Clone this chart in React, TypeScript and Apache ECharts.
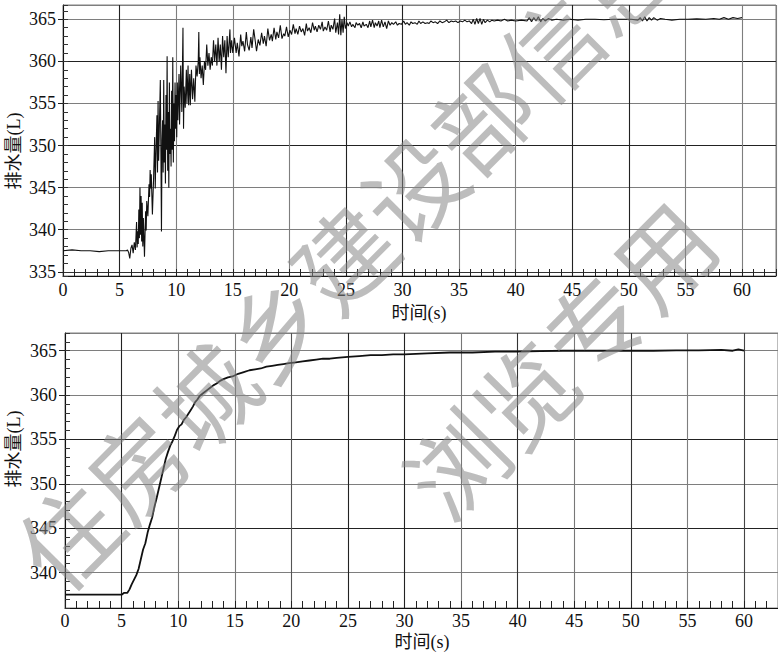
import React, { useEffect, useRef } from "react";
import * as echarts from "echarts";

// ---- Top chart: measured discharge (noisy) [time s, volume L]
const topBaseline: [number, number][] = [
  [0, 337.5], [0.8, 337.6], [1.6, 337.5], [2.4, 337.5], [3.2, 337.4], [4.0, 337.5], [4.8, 337.5], [5.6, 337.5],
];
const topRise: [number, number][] = [
  [5.7, 337.6], [5.8, 337.3], [5.9, 336.6], [6.0, 337.8], [6.1, 338.2], [6.2, 337.2], [6.3, 338.5], [6.4, 337.6],
  [6.5, 340.9], [6.55, 337.9], [6.6, 339.8], [6.65, 338.3], [6.7, 342.4], [6.75, 339.0], [6.8, 345.0], [6.85, 339.4],
  [6.9, 344.0], [6.95, 338.6], [7.0, 343.2], [7.05, 338.0], [7.1, 341.4], [7.2, 336.8], [7.3, 342.2], [7.35, 339.9],
  [7.4, 343.4], [7.5, 341.6], [7.6, 345.4], [7.65, 343.9], [7.7, 347.1], [7.75, 344.9], [7.8, 346.6], [7.9, 341.8],
  [8.0, 345.9], [8.1, 351.0], [8.15, 344.9], [8.2, 348.3], [8.3, 353.6], [8.35, 346.8], [8.4, 355.3], [8.45, 348.2],
  [8.5, 351.2], [8.6, 357.8], [8.65, 349.2], [8.7, 339.8], [8.75, 350.6], [8.8, 353.0], [8.85, 346.8], [8.9, 357.8],
  [8.95, 348.0], [9.0, 352.5], [9.05, 345.5], [9.1, 356.0], [9.15, 349.5], [9.2, 360.6], [9.25, 347.0], [9.3, 354.0],
  [9.35, 345.0], [9.4, 357.5], [9.45, 349.0], [9.5, 352.0], [9.55, 347.5], [9.6, 356.5], [9.65, 349.5], [9.7, 360.5],
  [9.75, 348.0], [9.8, 355.0], [9.85, 350.5], [9.9, 357.5], [9.95, 352.0], [10.0, 356.0], [10.05, 351.0], [10.1, 357.5],
  [10.15, 353.0], [10.25, 358.5], [10.3, 352.5], [10.4, 359.5], [10.5, 354.0], [10.6, 364.0], [10.65, 352.0], [10.7, 357.0],
  [10.8, 354.5], [10.9, 359.0], [10.95, 355.0], [11.05, 359.5], [11.1, 354.8], [11.2, 358.5], [11.25, 354.8], [11.35, 359.0],
  [11.45, 355.5], [11.55, 358.0], [11.65, 355.2], [11.75, 359.5], [11.85, 358.2], [11.95, 360.0], [12.0, 363.5], [12.05, 358.5],
  [12.1, 360.5], [12.2, 358.0], [12.3, 359.5], [12.4, 357.2], [12.5, 360.0], [12.6, 359.0], [12.7, 362.0], [12.8, 359.5],
  [12.9, 361.0], [13.0, 359.0], [13.1, 360.5], [13.2, 359.5], [13.3, 362.5], [13.4, 360.0], [13.5, 362.0], [13.6, 359.5],
  [13.7, 362.8], [13.8, 360.0], [13.9, 362.0], [14.0, 359.0], [14.1, 363.0], [14.2, 360.5], [14.3, 362.5], [14.4, 358.6],
  [14.5, 363.0], [14.6, 360.5], [14.75, 363.8], [14.8, 361.0], [14.9, 362.5], [15.0, 361.0],
];
const topSettle: [number, number][] = [
  [15.15, 362.8], [15.3, 361.0], [15.4, 362.2], [15.55, 360.6], [15.7, 363.2], [15.8, 361.8], [15.9, 362.4], [16.05, 361.2],
  [16.2, 363.5], [16.3, 362.0], [16.45, 361.3], [16.6, 362.9], [16.7, 361.6], [16.85, 363.8], [17.0, 362.3], [17.1, 361.2],
  [17.25, 362.6], [17.4, 361.9], [17.55, 363.4], [17.7, 362.1], [17.8, 363.0], [17.95, 361.8], [18.1, 363.9], [18.25, 362.5],
  [18.4, 363.2], [18.5, 362.4], [18.65, 364.0], [18.8, 362.6], [18.9, 363.5], [19.05, 362.8], [19.2, 364.3], [19.35, 362.7],
  [19.5, 363.3], [19.6, 363.0], [19.75, 364.1], [19.9, 362.9], [20.05, 363.7], [20.2, 363.2], [20.35, 364.4], [20.5, 363.3],
  [20.6, 363.9], [20.75, 363.2], [20.9, 364.2], [21.05, 363.5], [21.2, 363.9], [21.35, 363.1], [21.5, 364.5], [21.6, 363.6],
  [21.75, 364.0], [21.9, 363.4], [22.05, 364.6], [22.2, 363.7], [22.3, 364.2], [22.45, 363.5], [22.6, 364.3], [22.75, 363.8],
  [22.9, 364.7], [23.0, 363.6], [23.15, 364.1], [23.3, 363.7], [23.45, 364.8], [23.6, 363.5], [23.7, 364.3], [23.85, 363.8],
  [24.0, 365.1], [24.1, 363.4], [24.25, 364.6], [24.35, 363.2], [24.45, 365.6], [24.55, 363.1], [24.65, 365.0], [24.75, 363.4],
  [24.85, 365.3], [24.95, 363.9], [25.1, 364.6],
];
const topMid: [number, number][] = [
  [25.2, 364.2], [25.35, 364.7], [25.5, 364.1], [25.6, 364.4], [25.8, 364.0], [25.9, 364.6], [26.05, 364.3], [26.2, 364.5],
  [26.35, 364.0], [26.5, 364.7], [26.6, 364.2], [26.8, 364.4], [26.95, 364.0], [27.1, 364.8], [27.2, 364.1], [27.35, 364.9],
  [27.5, 364.0], [27.6, 364.6], [27.75, 364.2], [27.9, 364.8], [28.0, 364.0], [28.15, 364.9], [28.3, 364.1], [28.45, 364.7],
  [28.6, 363.9], [28.75, 364.8], [28.9, 364.3], [29.05, 364.6], [29.2, 364.4], [29.4, 364.7], [29.55, 364.3], [29.7, 364.5],
  [29.9, 364.4], [30.1, 364.8], [30.25, 364.4], [30.4, 364.6], [30.6, 364.3], [30.75, 364.7], [30.9, 364.5], [31.1, 364.6],
  [31.3, 364.4], [31.45, 364.8], [31.6, 364.5], [31.8, 364.7], [32.0, 364.5], [32.2, 364.6], [32.35, 364.5], [32.5, 364.8],
  [32.7, 364.6], [32.9, 364.7], [33.1, 364.5], [33.3, 364.8], [33.5, 364.6], [33.7, 364.7], [33.9, 364.9], [34.1, 364.6],
  [34.3, 364.8], [34.5, 364.7], [34.7, 364.8], [34.9, 364.6], [35.1, 364.8], [35.3, 364.7], [35.5, 364.9], [35.7, 364.7],
  [35.9, 364.8], [36.1, 364.5], [36.25, 365.0], [36.4, 364.4], [36.55, 365.1], [36.7, 364.5], [36.85, 365.1], [37.0, 364.4],
  [37.15, 365.0], [37.3, 364.6], [37.5, 364.9], [37.7, 364.7], [37.9, 364.9], [38.1, 364.8], [38.4, 364.9], [38.7, 364.8],
  [39.0, 365.0], [39.3, 364.8], [39.6, 364.9], [40.0, 364.8],
];
const topTail: [number, number][] = [
  [40.5, 364.9], [41.0, 364.8], [41.2, 365.2], [41.4, 364.7], [41.6, 365.2], [41.8, 364.8], [42.0, 365.3], [42.2, 364.7],
  [42.4, 365.1], [42.6, 364.8], [42.9, 365.1], [43.2, 364.9], [43.6, 365.0], [44.2, 364.9], [44.8, 365.0], [45.5, 364.9],
  [46.2, 365.0], [47.0, 365.0], [47.8, 364.95], [48.6, 365.0], [49.4, 365.0], [50.2, 365.0], [50.8, 364.9], [51.0, 365.2],
  [51.2, 364.8], [51.4, 365.3], [51.6, 364.8], [51.8, 365.2], [52.0, 364.9], [52.2, 365.2], [52.5, 364.9], [52.8, 365.1],
  [53.2, 365.0], [53.8, 364.9], [54.5, 365.0], [55.2, 365.0], [56.0, 365.05], [56.8, 365.0], [57.5, 365.1], [58.0, 365.0],
  [58.4, 365.2], [58.8, 365.0], [59.2, 365.2], [59.6, 365.1], [60.0, 365.2],
];

// ---- Bottom chart: smoothed discharge [time s, volume L]
const bottomFlat: [number, number][] = [
  [0, 337.5], [1, 337.5], [2, 337.5], [3, 337.5], [4, 337.5], [5.0, 337.5],
];
const bottomRise: [number, number][] = [
  [5.2, 337.7], [5.5, 337.7], [5.7, 338.1], [5.9, 338.7], [6.1, 339.2], [6.3, 339.7], [6.5, 340.4], [6.7, 341.5],
  [6.9, 342.6], [7.1, 343.3], [7.3, 344.5], [7.5, 345.4], [7.7, 346.2], [7.9, 347.4], [8.1, 348.4], [8.3, 349.5],
  [8.5, 350.6], [8.7, 351.7], [8.9, 352.8], [9.1, 353.6], [9.3, 354.3], [9.5, 354.8], [9.7, 355.4], [9.9, 356.1],
  [10.1, 356.5], [10.3, 356.7], [10.5, 357.2], [10.7, 357.5], [10.9, 357.9], [11.1, 358.3], [11.3, 358.7], [11.5, 359.2],
  [11.7, 359.5], [11.9, 359.9], [12.2, 360.2], [12.5, 360.5], [12.8, 360.8], [13.1, 361.1], [13.4, 361.3], [13.7, 361.6],
  [14.0, 361.8], [14.4, 362.0], [14.8, 362.1], [15.3, 362.4], [15.8, 362.6], [16.3, 362.8], [16.8, 362.9], [17.3, 363.0],
  [17.8, 363.2], [18.3, 363.3], [18.8, 363.4], [19.3, 363.5], [19.8, 363.6], [20.4, 363.7], [21.0, 363.8], [21.6, 363.9],
  [22.2, 364.0], [22.8, 364.1], [23.4, 364.1], [24.0, 364.2], [25.0, 364.3], [26.0, 364.4], [27.0, 364.5], [28.0, 364.5],
  [29.0, 364.6], [30.0, 364.6], [32.0, 364.7], [34.0, 364.8], [36.0, 364.8], [38.0, 364.9], [40.0, 364.9], [42.0, 364.95],
  [44.0, 365.0], [46.0, 365.0], [48.0, 365.0], [50.0, 365.0], [52.0, 365.0], [54.0, 365.05], [56.0, 365.05], [58.0, 365.1],
  [59.0, 365.0], [59.5, 365.15], [60.0, 365.0],
];

// ---- Axis ranges and texts
const xRange = [0, 63];
const topYRange = [334.5, 366.7];
const bottomYRange = [336, 367];
const yAxisTitle = "排水量(L)";
const xAxisTitle = "时间(s)";
const watermarkLine1 = "住房城乡建设部信息";
const watermarkLine2 = "浏览专用";

const SERIF = "'Liberation Serif', 'Times New Roman', serif";
const MIXED = "'Liberation Serif', 'Noto Sans CJK SC', serif";
const DARK = "#222";
const GREY = "#7e7e7e";

function makeXAxis(gridIndex: number, colors: string[], margin: number) {
  return {
    type: "value",
    gridIndex,
    position: "bottom",
    min: xRange[0],
    max: xRange[1],
    interval: 5,
    axisLine: { show: true, onZero: false, lineStyle: { color: "#111", width: 1 } },
    axisTick: { show: true, inside: true, length: 7, lineStyle: { color: "#222", width: 1 } },
    minorTick: { show: true, splitNumber: 5, length: 7, lineStyle: { color: "#222", width: 1 } },
    axisLabel: {
      show: true,
      margin,
      color: "#111",
      fontSize: 18,
      fontFamily: SERIF,
      showMinLabel: true,
      showMaxLabel: false,
    },
    splitLine: { show: true, lineStyle: { color: colors, width: 1.1 } },
    minorSplitLine: { show: false },
  };
}

function makeYMajor(gridIndex: number, range: number[], colors: string[], margin: number, tickLen: number) {
  return {
    type: "value",
    gridIndex,
    position: "left",
    min: range[0],
    max: range[1],
    minInterval: 5,
    maxInterval: 5,
    axisLine: { show: true, onZero: false, lineStyle: { color: "#111", width: 1 } },
    axisTick: { show: true, inside: false, length: tickLen, lineStyle: { color: "#222", width: 1 } },
    axisLabel: {
      show: true,
      margin,
      color: "#111",
      fontSize: 18,
      fontFamily: SERIF,
      showMinLabel: false,
      showMaxLabel: false,
    },
    splitLine: { show: true, lineStyle: { color: colors, width: 1.1 } },
  };
}

function makeYMinor(gridIndex: number, range: number[]) {
  return {
    type: "value",
    gridIndex,
    position: "left",
    offset: 0,
    min: range[0],
    max: range[1],
    minInterval: 1,
    maxInterval: 1,
    axisLine: { show: false, onZero: false },
    axisTick: { show: true, inside: true, length: 5, lineStyle: { color: "#333", width: 1 } },
    axisLabel: { show: false },
    splitLine: { show: false },
  };
}

export default function App() {
  const ref = useRef<HTMLDivElement>(null);

  useEffect(() => {
    if (!ref.current) return;
    const chart = echarts.init(ref.current, null, { renderer: "svg" });

    const topData = [...topBaseline, ...topRise, ...topSettle, ...topMid, ...topTail];
    const bottomData = [...bottomFlat, ...bottomRise];

    const topXColors = [DARK, DARK, GREY, GREY, GREY, DARK, DARK, GREY, GREY, DARK, DARK, GREY, GREY, GREY];
    const bottomXColors = [DARK, DARK, "#777", "#777", "#555", DARK, DARK, "#777", "#333", "#777", "#333", GREY, "#444", GREY];
    const topYColors = [DARK, "#333", GREY, GREY, DARK, GREY, DARK, GREY, GREY];
    const bottomYColors = [DARK, GREY, DARK, GREY, DARK, GREY, GREY, GREY];

    const wmStyle = {
      fontSize: 98,
      fontFamily: "'Noto Sans CJK SC', sans-serif",
      fill: "rgba(135,135,135,0.55)",
      align: "center",
      verticalAlign: "middle",
    };

    const titleStyle = { fontSize: 18, fontFamily: MIXED, fill: "#111", align: "center", verticalAlign: "middle" };

    const option: any = {
      animation: false,
      backgroundColor: "#ffffff",
      grid: [
        { left: 63, top: 5, width: 713, height: 271, show: true, borderColor: "#808080", borderWidth: 1, backgroundColor: "transparent" },
        { left: 65, top: 333, width: 714, height: 275, show: true, borderColor: "#808080", borderWidth: 1, backgroundColor: "transparent" },
      ],
      xAxis: [makeXAxis(0, topXColors, 5), makeXAxis(1, bottomXColors, 4)],
      yAxis: [
        makeYMajor(0, topYRange, topYColors, 7, 5),
        makeYMinor(0, topYRange),
        makeYMajor(1, bottomYRange, bottomYColors, 8, 6),
        makeYMinor(1, bottomYRange),
      ],
      series: [
        {
          type: "line",
          xAxisIndex: 0,
          yAxisIndex: 0,
          data: topData,
          showSymbol: false,
          symbol: "none",
          lineStyle: { color: "#111", width: 1.1 },
          z: 3,
        },
        {
          type: "line",
          xAxisIndex: 1,
          yAxisIndex: 2,
          data: bottomData,
          showSymbol: false,
          symbol: "none",
          lineStyle: { color: "#111", width: 1.8 },
          z: 3,
        },
      ],
      graphic: {
        elements: [
          { type: "text", x: 14, y: 151, rotation: Math.PI / 2, style: { text: yAxisTitle, ...titleStyle } },
          { type: "text", x: 14, y: 449, rotation: Math.PI / 2, style: { text: yAxisTitle, ...titleStyle } },
          { type: "text", x: 419, y: 313, style: { text: xAxisTitle, ...titleStyle } },
          { type: "text", x: 422, y: 642, style: { text: xAxisTitle, ...titleStyle } },
          { type: "text", x: 341, y: 255, z: 100, rotation: 0.79, style: { text: watermarkLine1, ...wmStyle } },
          { type: "text", x: 557, y: 357, z: 100, rotation: 0.79, style: { text: watermarkLine2, ...wmStyle } },
        ],
      },
    };

    chart.setOption(option);
    return () => chart.dispose();
  }, []);

  return (
    <div
      ref={ref}
      style={{ position: "absolute", left: 0, top: 0, width: 778, height: 654, background: "#fff" }}
    />
  );
}
